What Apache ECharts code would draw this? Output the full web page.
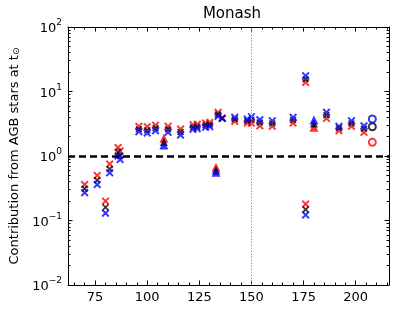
<!DOCTYPE html>
<html>
<head>
<meta charset="utf-8">
<script src="https://cdn.jsdelivr.net/npm/echarts@6/dist/echarts.min.js"></script>
<style>
html,body{margin:0;padding:0;background:#fff;}
#c{width:399px;height:312px;}
</style>
</head>
<body>
<div id="c"></div>
<script>
// ---- data ----
const crossX     = [70, 76, 80, 82, 86, 87, 96, 100, 104, 110, 116, 122, 124, 128, 130, 134, 136, 142, 148, 150, 154, 160, 170, 176, 176, 186, 192, 198, 204];
const crossRed   = [0.36, 0.50, 0.20, 0.75, 1.35, 1.20, 2.88, 2.85, 3.0, 2.88, 2.62, 3.05, 3.1, 3.24, 3.3, 4.75, 3.9, 3.43, 3.24, 3.24, 2.94, 2.88, 3.24, 13.8, 0.18, 3.83, 2.47, 2.88, 2.33];
const crossBlack = [0.31, 0.42, 0.16, 0.63, 1.15, 1.0, 2.6, 2.5, 2.7, 2.6, 2.35, 2.8, 2.85, 3.0, 3.05, 4.4, 3.85, 3.7, 3.5, 3.6, 3.3, 3.2, 3.6, 15.5, 0.148, 4.3, 2.7, 3.2, 2.65];
const crossBlue  = [0.27, 0.36, 0.13, 0.55, 1.0, 0.88, 2.38, 2.27, 2.47, 2.33, 2.11, 2.6, 2.65, 2.78, 2.85, 4.12, 3.8, 3.98, 3.74, 4.06, 3.65, 3.52, 3.98, 17.5, 0.122, 4.75, 2.88, 3.52, 2.94];
const triX     = [108, 133, 180];
const triRed   = [1.88, 0.67, 2.78];
const triBlack = [1.65, 0.60, 3.2];
const triBlue  = [1.48, 0.56, 3.6];
const circX     = [208];
const circRed   = [1.63];
const circBlack = [2.84];
const circBlue  = [3.74];
const xMajorTicks = [75, 100, 125, 150, 175, 200];
const xMinorTicks = [65, 70, 80, 85, 90, 95, 105, 110, 115, 120, 130, 135, 140, 145, 155, 160, 165, 170, 180, 185, 190, 195, 205, 210, 215];
const refY = 1;
const refX = 150;
const titleText = 'Monash';
const yName = 'Contribution from AGB stars at t{sub|⊙}';

// ---- build ----
const RED = '#ff0000', BLUE = '#0000ff', BLACK = '#000000';
const crossPath = 'path://M0,1.7L1.7,0L5,3.3L8.3,0L10,1.7L6.7,5L10,8.3L8.3,10L5,6.7L1.7,10L0,8.3L3.3,5Z';
function pairs(xs, ys){ return xs.map((x,i)=>[x, ys[i]]); }

// minor log ticks (positions in exponent space for an overlay axis)
const yMinorTicks = [];
for (let d = -2; d < 2; d++) for (let m = 2; m <= 9; m++) yMinorTicks.push(d + Math.log10(m));

const font = 'DejaVu Sans';
const lineCol = '#000';
function xAx(pos, ticks, len, showLine, showLabel){
  return {
    type:'value', position:pos, min:62, max:216,
    axisLine:{show:showLine, onZero:false, lineStyle:{color:lineCol, width:1}},
    axisTick:{show:true, inside:true, length:len, customValues:ticks, lineStyle:{color:lineCol, width:1}},
    axisLabel:{show:showLabel, customValues:ticks, color:'#000', fontFamily:font, fontSize:13, margin:6},
    splitLine:{show:false}
  };
}
const supRich = {
  b:{fontFamily:font, fontSize:13, color:'#000', lineHeight:17, verticalAlign:'bottom'},
  sup:{fontFamily:font, fontSize:9, color:'#000', verticalAlign:'top', lineHeight:17}
};
function expStr(v){
  const e = Math.round(Math.log10(v));
  return '{b|10}{sup|' + (e < 0 ? '\u2212' + (-e) : e) + '}';
}
const option = {
  animation:false,
  backgroundColor:'#fff',
  title:{text:titleText, left:227, top:2, textAlign:'center',
    textStyle:{fontFamily:font, fontSize:15, fontWeight:'normal', color:'#000'}},
  grid:{left:66, right:10, top:27, bottom:27},
  xAxis:[
    xAx('bottom', xMajorTicks, 4.5, true, true),
    xAx('bottom', xMinorTicks, 2.5, false, false),
    xAx('top', xMajorTicks, 4.5, true, false),
    xAx('top', xMinorTicks, 2.5, false, false)
  ],
  yAxis:[
    {type:'log', logBase:10, position:'left', min:0.01, max:100,
     name:yName, nameLocation:'middle', nameGap:47, nameRotate:90,
     nameTextStyle:{fontFamily:font, fontSize:13, color:'#000',
       rich:{sub:{fontFamily:font, fontSize:9, color:'#000', verticalAlign:'bottom'}}},
     axisLine:{show:true, onZero:false, lineStyle:{color:lineCol, width:1}},
     axisTick:{show:true, inside:true, length:4.5, lineStyle:{color:lineCol}},
     axisLabel:{color:'#000', margin:6, formatter:expStr, rich:supRich},
     splitLine:{show:false}},
    {type:'log', logBase:10, position:'right', min:0.01, max:100,
     axisLine:{show:true, onZero:false, lineStyle:{color:lineCol, width:1}},
     axisTick:{show:true, inside:true, length:4.5, lineStyle:{color:lineCol}},
     axisLabel:{show:false}, splitLine:{show:false}},
    {type:'value', position:'left', min:-2, max:2,
     axisLine:{show:false}, axisLabel:{show:false}, splitLine:{show:false},
     axisTick:{show:true, inside:true, length:2.5, customValues:yMinorTicks, lineStyle:{color:lineCol}}},
    {type:'value', position:'right', min:-2, max:2,
     axisLine:{show:false}, axisLabel:{show:false}, splitLine:{show:false},
     axisTick:{show:true, inside:true, length:2.5, customValues:yMinorTicks, lineStyle:{color:lineCol}}}
  ],
  series:[
    {type:'line', data:[], xAxisIndex:0, yAxisIndex:0, z:1, silent:true,
     markLine:{silent:true, symbol:'none', label:{show:false}, animation:false,
       data:[
         {xAxis:refX, lineStyle:{color:'#999', type:[1.5,1.5], width:1}},
         {yAxis:refY, lineStyle:{color:'#000', type:[7,4], width:2.5}}
       ]}},
    {type:'scatter', data:pairs(crossX, crossRed), symbol:crossPath, symbolSize:8, itemStyle:{color:RED}, z:3},
    {type:'scatter', data:pairs(crossX, crossBlack), symbol:crossPath, symbolSize:7, itemStyle:{color:BLACK}, z:3},
    {type:'scatter', data:pairs(crossX, crossBlue), symbol:crossPath, symbolSize:8, itemStyle:{color:BLUE}, z:3},
    {type:'scatter', data:pairs(triX, triRed), symbol:'triangle', symbolSize:9, itemStyle:{color:RED}, z:3},
    {type:'scatter', data:pairs(triX, triBlack), symbol:'triangle', symbolSize:8, itemStyle:{color:BLACK}, z:3},
    {type:'scatter', data:pairs(triX, triBlue), symbol:'triangle', symbolSize:9, itemStyle:{color:BLUE}, z:3},
    {type:'scatter', data:pairs(circX, circRed), symbol:'emptyCircle', symbolSize:7, itemStyle:{color:RED, borderColor:RED, borderWidth:1.2}, z:3},
    {type:'scatter', data:pairs(circX, circBlack), symbol:'emptyCircle', symbolSize:7, itemStyle:{color:BLACK, borderColor:BLACK, borderWidth:1.2}, z:3},
    {type:'scatter', data:pairs(circX, circBlue), symbol:'emptyCircle', symbolSize:7, itemStyle:{color:BLUE, borderColor:BLUE, borderWidth:1.2}, z:3}
  ]
};
const chart = echarts.init(document.getElementById('c'), null, {renderer:'canvas'});
chart.setOption(option);
</script>
</body>
</html>
